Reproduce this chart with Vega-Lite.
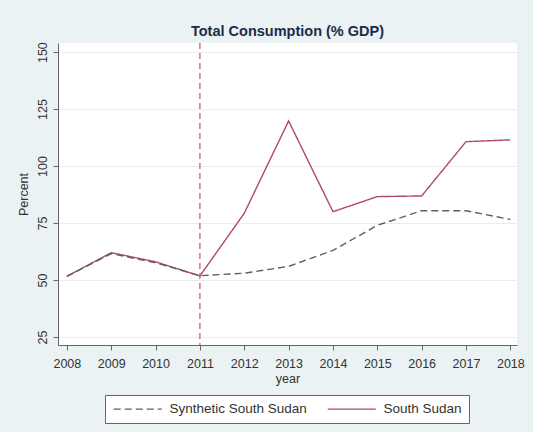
{
  "$schema": "https://vega.github.io/schema/vega-lite/v6.json",
  "width": 459,
  "height": 302,
  "autosize": {"type": "none"},
  "padding": {"left": 58, "top": 43, "right": 16, "bottom": 87},
  "background": "#eaf2f3",
  "title": {"text": "Total Consumption (% GDP)", "anchor": "middle", "fontSize": 14.5, "fontWeight": "bold", "color": "#1c2b4a", "font": "Liberation Sans", "offset": 2},
  "config": {
    "view": {"fill": "white", "stroke": null},
    "font": "Liberation Sans",
    "axis": {"labelFont": "Liberation Sans", "titleFont": "Liberation Sans", "labelColor": "#333", "titleColor": "#333", "domainColor": "#666", "tickColor": "#666", "labelFontSize": 12.5, "titleFontSize": 12.5, "titleFontWeight": "normal", "gridColor": "#ececec", "tickSize": 5}
  },
  "layer": [
    {
      "data": {"values": [
        {"year": 2008, "value": 51.6, "series": "South Sudan"},
        {"year": 2009, "value": 62.0, "series": "South Sudan"},
        {"year": 2010, "value": 58.0, "series": "South Sudan"},
        {"year": 2011, "value": 51.8, "series": "South Sudan"},
        {"year": 2012, "value": 79.3, "series": "South Sudan"},
        {"year": 2013, "value": 119.8, "series": "South Sudan"},
        {"year": 2014, "value": 80.0, "series": "South Sudan"},
        {"year": 2015, "value": 86.6, "series": "South Sudan"},
        {"year": 2016, "value": 86.9, "series": "South Sudan"},
        {"year": 2017, "value": 110.7, "series": "South Sudan"},
        {"year": 2018, "value": 111.5, "series": "South Sudan"},
        {"year": 2008, "value": 51.6, "series": "Synthetic South Sudan"},
        {"year": 2009, "value": 61.6, "series": "Synthetic South Sudan"},
        {"year": 2010, "value": 57.6, "series": "Synthetic South Sudan"},
        {"year": 2011, "value": 51.9, "series": "Synthetic South Sudan"},
        {"year": 2012, "value": 53.0, "series": "Synthetic South Sudan"},
        {"year": 2013, "value": 56.0, "series": "Synthetic South Sudan"},
        {"year": 2014, "value": 63.0, "series": "Synthetic South Sudan"},
        {"year": 2015, "value": 74.0, "series": "Synthetic South Sudan"},
        {"year": 2016, "value": 80.4, "series": "Synthetic South Sudan"},
        {"year": 2017, "value": 80.4, "series": "Synthetic South Sudan"},
        {"year": 2018, "value": 76.6, "series": "Synthetic South Sudan"}
      ]},
      "mark": {"type": "line", "strokeWidth": 1.4},
      "encoding": {
        "x": {"field": "year", "type": "quantitative",
          "scale": {"domain": [2007.8, 2018.15], "nice": false, "zero": false},
          "axis": {"values": [2008,2009,2010,2011,2012,2013,2014,2015,2016,2017,2018], "format": "d", "grid": false, "title": "year", "labelPadding": 7, "titlePadding": 3}},
        "y": {"field": "value", "type": "quantitative",
          "scale": {"domain": [21.5, 154], "nice": false, "zero": false},
          "axis": {"values": [25,50,75,100,125,150], "grid": true, "title": "Percent", "labelAngle": 270, "labelAlign": "center", "labelBaseline": "bottom", "labelPadding": 4, "titlePadding": 6}},
        "color": {"field": "series", "type": "nominal",
          "scale": {"domain": ["Synthetic South Sudan", "South Sudan"], "range": ["#56606e", "#b04a62"]},
          "legend": {"title": null, "orient": "none", "legendX": 47, "legendY": 352, "direction": "horizontal",
            "fillColor": "white", "strokeColor": "#666", "padding": 7,
            "symbolType": "M-1,0L8.6,0", "symbolSize": 100, "symbolStrokeWidth": 1.4,
            "labelFontSize": 13.5, "labelColor": "#333", "labelFont": "Liberation Sans", "columnPadding": 17, "labelOffset": 44}},
        "strokeDash": {"field": "series", "type": "nominal",
          "scale": {"domain": ["Synthetic South Sudan", "South Sudan"], "range": [[7, 4], [1, 0]]},
          "legend": {"title": null, "orient": "none", "legendX": 47, "legendY": 352, "direction": "horizontal",
            "fillColor": "white", "strokeColor": "#666", "padding": 7,
            "symbolType": "M-1,0L8.6,0", "symbolSize": 100, "symbolStrokeWidth": 1.4,
            "labelFontSize": 13.5, "labelColor": "#333", "labelFont": "Liberation Sans", "columnPadding": 17, "labelOffset": 44}}
      }
    },
    {
      "data": {"values": [{"year": 2011}]},
      "mark": {"type": "rule", "color": "#d0476e", "strokeDash": [6, 4], "strokeWidth": 1.2},
      "encoding": {"x": {"field": "year", "type": "quantitative"}}
    }
  ]
}
